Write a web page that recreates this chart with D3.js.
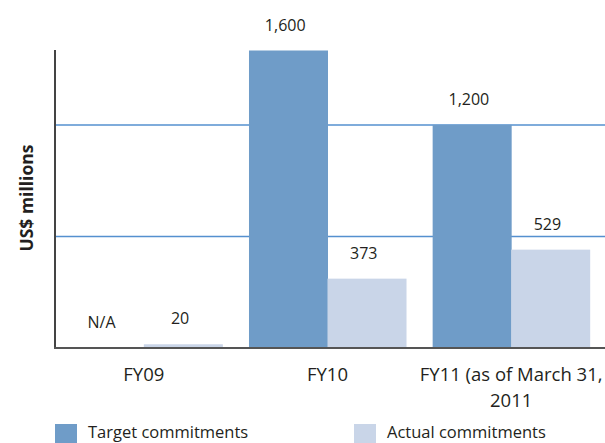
<!DOCTYPE html>
<html>
  <head>
    <meta charset="utf-8">
    <script src="https://cdn.jsdelivr.net/npm/d3@7/dist/d3.min.js"></script>
    <style>
      body { margin: 0; background: #fff; }
      text { font-family: "Open Sans", sans-serif; fill: #231f20; }
    </style>
  </head>
  <body>
    <script>
      const categories = ['FY09', 'FY10', 'FY11 (as of March 31, 2011'];
      const categoryLines = [['FY09'], ['FY10'], ['FY11 (as of March 31,', '2011']];
      const seriesNames = ['Target commitments', 'Actual commitments'];
      const target = [null, 1600, 1200];
      const actual = [20, 373, 529];
      const gridValues = [600, 1200];
      const colors = ['#6f9cc8', '#c9d5e8'];

      const width = 605;
      const height = 443;
      const x0 = 55, baseY = 348, topY = 50;

      const svg = d3.select('body')
        .append('svg')
        .attr('width', width)
        .attr('height', height);

      const xScale = d3.scaleBand()
        .domain(categories)
        .range([52, 603])
        .paddingInner(0.145)
        .paddingOuter(0.0725);

      const xSub = d3.scaleBand()
        .domain(seriesNames)
        .range([0, xScale.bandwidth()]);

      const yScale = d3.scaleLinear()
        .domain([0, 1600])
        .range([baseY, topY + 0.5]);

      // gridlines
      svg.selectAll('line.grid').data(gridValues)
        .enter()
        .append('line')
        .attr('x1', x0)
        .attr('x2', width)
        .attr('y1', d => yScale(d))
        .attr('y2', d => yScale(d))
        .style('stroke', '#5590cf')
        .style('stroke-width', '1.5px');

      const rows = categories.map((c, i) => [
        {cat: c, s: seriesNames[0], v: target[i], color: colors[0]},
        {cat: c, s: seriesNames[1], v: actual[i], color: colors[1]}
      ]).flat();

      svg.selectAll('rect.bar').data(rows.filter(d => d.v != null))
        .enter()
        .append('rect')
        .attr('x', d => xScale(d.cat) + xSub(d.s))
        .attr('y', d => yScale(d.v))
        .attr('width', xSub.bandwidth() + 0.5)
        .attr('height', d => baseY - yScale(d.v))
        .style('fill', d => d.color);

      // value labels
      svg.selectAll('text.val').data(rows)
        .enter()
        .append('text')
        .attr('x', d => xScale(d.cat) + xSub(d.s) + xSub.bandwidth() / 2 - 3)
        .attr('y', d => yScale(d.v || 0) - 20)
        .attr('text-anchor', 'middle')
        .style('font-size', '16px')
        .text(d => d.v == null ? 'N/A' : d3.format(',')(d.v));

      // axes
      svg.append('line')
        .attr('x1', x0).attr('x2', x0)
        .attr('y1', topY).attr('y2', baseY + 1)
        .style('stroke', '#444')
        .style('stroke-width', '2px');

      svg.append('line')
        .attr('x1', x0 - 1).attr('x2', width)
        .attr('y1', baseY).attr('y2', baseY)
        .style('stroke', '#555')
        .style('stroke-width', '2px');

      // category labels
      categories.forEach((c, i) => {
        const t = svg.append('text')
          .attr('x', xScale(c) + xScale.bandwidth() / 2)
          .attr('y', 381)
          .attr('text-anchor', 'middle')
          .style('font-size', '18.5px');
        categoryLines[i].forEach((line, j) => {
          t.append('tspan')
            .attr('x', xScale(c) + xScale.bandwidth() / 2)
            .attr('dy', j === 0 ? 0 : 26)
            .text(line);
        });
      });

      // y title
      svg.append('text')
        .attr('transform', 'translate(33,198) rotate(-90)')
        .attr('text-anchor', 'middle')
        .style('font-size', '17.5px')
        .style('font-weight', 'bold')
        .text('US$ millions');

      // legend
      const legendX = [55, 354];
      const legend = svg.selectAll('g.legend').data(seriesNames)
        .enter()
        .append('g')
        .attr('transform', (d, i) => `translate(${legendX[i]},424)`);

      legend.append('rect')
        .attr('width', 22)
        .attr('height', 19)
        .style('fill', (d, i) => colors[i]);

      legend.append('text')
        .attr('x', 33)
        .attr('y', 14)
        .style('font-size', '16.5px')
        .text(d => d);
    </script>
  </body>
</html>
